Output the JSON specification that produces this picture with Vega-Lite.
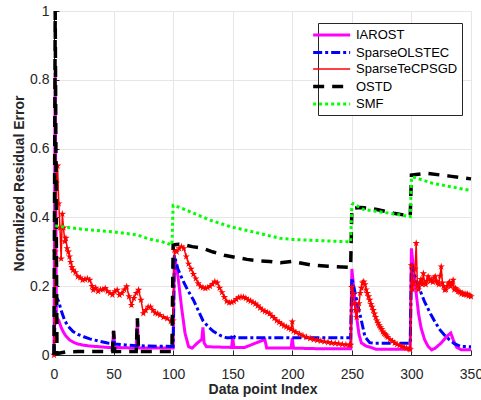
{
  "$schema": "https://vega.github.io/schema/vega-lite/v6.json",
  "width": 417,
  "height": 344,
  "autosize": {"type": "none"},
  "padding": {"left": 54, "top": 11, "right": 10, "bottom": 45},
  "background": "white",
  "config": {
    "view": {"stroke": null},
    "axis": {
      "gridColor": "#e6e6e6", "gridWidth": 1,
      "domainColor": "#262626", "domainWidth": 1,
      "tickColor": "#262626", "tickSize": -5,
      "labelFont": "Liberation Sans", "labelFontSize": 14, "labelColor": "#262626",
      "titleFont": "Liberation Sans", "titleFontSize": 14, "titleFontWeight": "bold", "titleColor": "#262626"
    },
    "legend": {
      "orient": "none", "legendX": 264, "legendY": 12,
      "strokeColor": "#262626", "fillColor": "white",
      "padding": 4,
      "labelFont": "Liberation Sans", "labelFontSize": 13, "labelColor": "black",
      "symbolType": "M-2.73,0H3.27", "symbolSize": 152, "labelOffset": 18, "rowPadding": 2.5
    }
  },
  "data": {"values": [
    {"s":"IAROST","x":0,"y":0},{"s":"IAROST","x":1,"y":0.82},{"s":"IAROST","x":2,"y":0.11},{"s":"IAROST","x":4,"y":0.1},{"s":"IAROST","x":6,"y":0.08},{"s":"IAROST","x":8,"y":0.066},{"s":"IAROST","x":10,"y":0.055},{"s":"IAROST","x":13,"y":0.044},{"s":"IAROST","x":17,"y":0.036},{"s":"IAROST","x":20,"y":0.032},{"s":"IAROST","x":24,"y":0.029},{"s":"IAROST","x":30,"y":0.026},{"s":"IAROST","x":38,"y":0.024},{"s":"IAROST","x":45,"y":0.022},{"s":"IAROST","x":49,"y":0.022},{"s":"IAROST","x":50,"y":0.07},{"s":"IAROST","x":51,"y":0.022},{"s":"IAROST","x":60,"y":0.021},{"s":"IAROST","x":69,"y":0.02},{"s":"IAROST","x":70,"y":0.105},{"s":"IAROST","x":71,"y":0.02},{"s":"IAROST","x":80,"y":0.02},{"s":"IAROST","x":90,"y":0.02},{"s":"IAROST","x":100,"y":0.02},{"s":"IAROST","x":101,"y":0.27},{"s":"IAROST","x":102,"y":0.27},{"s":"IAROST","x":104,"y":0.23},{"s":"IAROST","x":107,"y":0.14},{"s":"IAROST","x":110,"y":0.063},{"s":"IAROST","x":113,"y":0.024},{"s":"IAROST","x":116,"y":0.02},{"s":"IAROST","x":120,"y":0.034},{"s":"IAROST","x":124,"y":0.045},{"s":"IAROST","x":125,"y":0.08},{"s":"IAROST","x":126,"y":0.035},{"s":"IAROST","x":128,"y":0.024},{"s":"IAROST","x":149,"y":0.022},{"s":"IAROST","x":150,"y":0.05},{"s":"IAROST","x":151,"y":0.022},{"s":"IAROST","x":160,"y":0.022},{"s":"IAROST","x":168,"y":0.033},{"s":"IAROST","x":177,"y":0.045},{"s":"IAROST","x":178.5,"y":0.02},{"s":"IAROST","x":199,"y":0.02},{"s":"IAROST","x":200,"y":0.05},{"s":"IAROST","x":201,"y":0.02},{"s":"IAROST","x":225,"y":0.018},{"s":"IAROST","x":249,"y":0.018},{"s":"IAROST","x":250,"y":0.25},{"s":"IAROST","x":252,"y":0.18},{"s":"IAROST","x":254,"y":0.11},{"s":"IAROST","x":256,"y":0.06},{"s":"IAROST","x":258,"y":0.035},{"s":"IAROST","x":262,"y":0.026},{"s":"IAROST","x":266,"y":0.022},{"s":"IAROST","x":270,"y":0.017},{"s":"IAROST","x":299,"y":0.017},{"s":"IAROST","x":300,"y":0.31},{"s":"IAROST","x":302,"y":0.24},{"s":"IAROST","x":304,"y":0.18},{"s":"IAROST","x":306,"y":0.12},{"s":"IAROST","x":308,"y":0.08},{"s":"IAROST","x":311,"y":0.045},{"s":"IAROST","x":314,"y":0.025},{"s":"IAROST","x":317,"y":0.015},{"s":"IAROST","x":320,"y":0.02},{"s":"IAROST","x":325,"y":0.035},{"s":"IAROST","x":330,"y":0.055},{"s":"IAROST","x":333,"y":0.064},{"s":"IAROST","x":335,"y":0.045},{"s":"IAROST","x":338,"y":0.022},{"s":"IAROST","x":342,"y":0.015},{"s":"IAROST","x":350,"y":0.015},

    {"s":"SparseOLSTEC","x":0,"y":0},{"s":"SparseOLSTEC","x":1,"y":0.12},{"s":"SparseOLSTEC","x":2,"y":0.168},{"s":"SparseOLSTEC","x":4,"y":0.155},{"s":"SparseOLSTEC","x":6,"y":0.13},{"s":"SparseOLSTEC","x":9,"y":0.1},{"s":"SparseOLSTEC","x":12,"y":0.083},{"s":"SparseOLSTEC","x":16,"y":0.068},{"s":"SparseOLSTEC","x":20,"y":0.06},{"s":"SparseOLSTEC","x":25,"y":0.053},{"s":"SparseOLSTEC","x":30,"y":0.047},{"s":"SparseOLSTEC","x":38,"y":0.04},{"s":"SparseOLSTEC","x":45,"y":0.035},{"s":"SparseOLSTEC","x":49,"y":0.033},{"s":"SparseOLSTEC","x":50,"y":0.045},{"s":"SparseOLSTEC","x":51,"y":0.032},{"s":"SparseOLSTEC","x":60,"y":0.029},{"s":"SparseOLSTEC","x":70,"y":0.027},{"s":"SparseOLSTEC","x":80,"y":0.026},{"s":"SparseOLSTEC","x":100,"y":0.025},{"s":"SparseOLSTEC","x":101,"y":0.29},{"s":"SparseOLSTEC","x":104,"y":0.25},{"s":"SparseOLSTEC","x":108,"y":0.218},{"s":"SparseOLSTEC","x":112,"y":0.19},{"s":"SparseOLSTEC","x":117,"y":0.16},{"s":"SparseOLSTEC","x":121,"y":0.13},{"s":"SparseOLSTEC","x":125,"y":0.1},{"s":"SparseOLSTEC","x":130,"y":0.08},{"s":"SparseOLSTEC","x":134,"y":0.068},{"s":"SparseOLSTEC","x":140,"y":0.056},{"s":"SparseOLSTEC","x":145,"y":0.05},{"s":"SparseOLSTEC","x":149,"y":0.05},{"s":"SparseOLSTEC","x":150,"y":0.06},{"s":"SparseOLSTEC","x":152,"y":0.05},{"s":"SparseOLSTEC","x":200,"y":0.05},{"s":"SparseOLSTEC","x":249,"y":0.05},{"s":"SparseOLSTEC","x":250,"y":0.224},{"s":"SparseOLSTEC","x":254,"y":0.16},{"s":"SparseOLSTEC","x":258,"y":0.1},{"s":"SparseOLSTEC","x":261,"y":0.053},{"s":"SparseOLSTEC","x":265,"y":0.036},{"s":"SparseOLSTEC","x":270,"y":0.034},{"s":"SparseOLSTEC","x":299,"y":0.034},{"s":"SparseOLSTEC","x":300,"y":0.266},{"s":"SparseOLSTEC","x":303,"y":0.23},{"s":"SparseOLSTEC","x":307,"y":0.19},{"s":"SparseOLSTEC","x":311,"y":0.155},{"s":"SparseOLSTEC","x":316,"y":0.12},{"s":"SparseOLSTEC","x":320,"y":0.095},{"s":"SparseOLSTEC","x":324,"y":0.073},{"s":"SparseOLSTEC","x":328,"y":0.057},{"s":"SparseOLSTEC","x":332,"y":0.044},{"s":"SparseOLSTEC","x":336,"y":0.033},{"s":"SparseOLSTEC","x":341,"y":0.025},{"s":"SparseOLSTEC","x":350,"y":0.024},

    {"s":"SparseTeCPSGD","x":0,"y":0},{"s":"SparseTeCPSGD","x":1,"y":0.3},{"s":"SparseTeCPSGD","x":2,"y":0.5},{"s":"SparseTeCPSGD","x":3,"y":0.55},{"s":"SparseTeCPSGD","x":4,"y":0.44},{"s":"SparseTeCPSGD","x":5,"y":0.37},{"s":"SparseTeCPSGD","x":6,"y":0.28},{"s":"SparseTeCPSGD","x":7,"y":0.41},{"s":"SparseTeCPSGD","x":8,"y":0.37},{"s":"SparseTeCPSGD","x":9,"y":0.33},{"s":"SparseTeCPSGD","x":10,"y":0.34},{"s":"SparseTeCPSGD","x":11,"y":0.31},{"s":"SparseTeCPSGD","x":12,"y":0.3},{"s":"SparseTeCPSGD","x":13,"y":0.286},{"s":"SparseTeCPSGD","x":14,"y":0.27},{"s":"SparseTeCPSGD","x":15,"y":0.255},{"s":"SparseTeCPSGD","x":16,"y":0.247},{"s":"SparseTeCPSGD","x":18,"y":0.24},{"s":"SparseTeCPSGD","x":20,"y":0.228},{"s":"SparseTeCPSGD","x":22,"y":0.225},{"s":"SparseTeCPSGD","x":24,"y":0.218},{"s":"SparseTeCPSGD","x":26,"y":0.22},{"s":"SparseTeCPSGD","x":28,"y":0.222},{"s":"SparseTeCPSGD","x":30,"y":0.218},{"s":"SparseTeCPSGD","x":32,"y":0.2},{"s":"SparseTeCPSGD","x":33,"y":0.189},{"s":"SparseTeCPSGD","x":35,"y":0.195},{"s":"SparseTeCPSGD","x":37,"y":0.185},{"s":"SparseTeCPSGD","x":39,"y":0.19},{"s":"SparseTeCPSGD","x":41,"y":0.19},{"s":"SparseTeCPSGD","x":43,"y":0.194},{"s":"SparseTeCPSGD","x":45,"y":0.185},{"s":"SparseTeCPSGD","x":47,"y":0.18},{"s":"SparseTeCPSGD","x":49,"y":0.175},{"s":"SparseTeCPSGD","x":51,"y":0.185},{"s":"SparseTeCPSGD","x":53,"y":0.189},{"s":"SparseTeCPSGD","x":55,"y":0.174},{"s":"SparseTeCPSGD","x":57,"y":0.18},{"s":"SparseTeCPSGD","x":59,"y":0.19},{"s":"SparseTeCPSGD","x":61,"y":0.199},{"s":"SparseTeCPSGD","x":63,"y":0.17},{"s":"SparseTeCPSGD","x":65,"y":0.145},{"s":"SparseTeCPSGD","x":67,"y":0.165},{"s":"SparseTeCPSGD","x":69,"y":0.18},{"s":"SparseTeCPSGD","x":71,"y":0.189},{"s":"SparseTeCPSGD","x":73,"y":0.16},{"s":"SparseTeCPSGD","x":75,"y":0.121},{"s":"SparseTeCPSGD","x":77,"y":0.13},{"s":"SparseTeCPSGD","x":79,"y":0.14},{"s":"SparseTeCPSGD","x":81,"y":0.14},{"s":"SparseTeCPSGD","x":83,"y":0.13},{"s":"SparseTeCPSGD","x":85,"y":0.122},{"s":"SparseTeCPSGD","x":87,"y":0.12},{"s":"SparseTeCPSGD","x":89,"y":0.116},{"s":"SparseTeCPSGD","x":92,"y":0.11},{"s":"SparseTeCPSGD","x":95,"y":0.106},{"s":"SparseTeCPSGD","x":98,"y":0.098},{"s":"SparseTeCPSGD","x":100,"y":0.1},{"s":"SparseTeCPSGD","x":101,"y":0.305},{"s":"SparseTeCPSGD","x":103,"y":0.3},{"s":"SparseTeCPSGD","x":105,"y":0.31},{"s":"SparseTeCPSGD","x":107,"y":0.315},{"s":"SparseTeCPSGD","x":109,"y":0.31},{"s":"SparseTeCPSGD","x":111,"y":0.286},{"s":"SparseTeCPSGD","x":113,"y":0.265},{"s":"SparseTeCPSGD","x":115,"y":0.25},{"s":"SparseTeCPSGD","x":117,"y":0.235},{"s":"SparseTeCPSGD","x":119,"y":0.222},{"s":"SparseTeCPSGD","x":121,"y":0.208},{"s":"SparseTeCPSGD","x":123,"y":0.199},{"s":"SparseTeCPSGD","x":125,"y":0.196},{"s":"SparseTeCPSGD","x":127,"y":0.194},{"s":"SparseTeCPSGD","x":129,"y":0.196},{"s":"SparseTeCPSGD","x":131,"y":0.2},{"s":"SparseTeCPSGD","x":133,"y":0.206},{"s":"SparseTeCPSGD","x":135,"y":0.213},{"s":"SparseTeCPSGD","x":137,"y":0.21},{"s":"SparseTeCPSGD","x":139,"y":0.195},{"s":"SparseTeCPSGD","x":141,"y":0.182},{"s":"SparseTeCPSGD","x":143,"y":0.168},{"s":"SparseTeCPSGD","x":145,"y":0.156},{"s":"SparseTeCPSGD","x":147,"y":0.152},{"s":"SparseTeCPSGD","x":149,"y":0.153},{"s":"SparseTeCPSGD","x":151,"y":0.156},{"s":"SparseTeCPSGD","x":153,"y":0.162},{"s":"SparseTeCPSGD","x":155,"y":0.167},{"s":"SparseTeCPSGD","x":157,"y":0.169},{"s":"SparseTeCPSGD","x":159,"y":0.168},{"s":"SparseTeCPSGD","x":161,"y":0.165},{"s":"SparseTeCPSGD","x":163,"y":0.16},{"s":"SparseTeCPSGD","x":165,"y":0.157},{"s":"SparseTeCPSGD","x":167,"y":0.153},{"s":"SparseTeCPSGD","x":169,"y":0.149},{"s":"SparseTeCPSGD","x":171,"y":0.143},{"s":"SparseTeCPSGD","x":173,"y":0.137},{"s":"SparseTeCPSGD","x":175,"y":0.131},{"s":"SparseTeCPSGD","x":177,"y":0.127},{"s":"SparseTeCPSGD","x":179,"y":0.124},{"s":"SparseTeCPSGD","x":181,"y":0.12},{"s":"SparseTeCPSGD","x":183,"y":0.113},{"s":"SparseTeCPSGD","x":185,"y":0.107},{"s":"SparseTeCPSGD","x":187,"y":0.1},{"s":"SparseTeCPSGD","x":189,"y":0.095},{"s":"SparseTeCPSGD","x":191,"y":0.09},{"s":"SparseTeCPSGD","x":193,"y":0.085},{"s":"SparseTeCPSGD","x":195,"y":0.082},{"s":"SparseTeCPSGD","x":197,"y":0.078},{"s":"SparseTeCPSGD","x":199,"y":0.075},{"s":"SparseTeCPSGD","x":200,"y":0.097},{"s":"SparseTeCPSGD","x":201,"y":0.07},{"s":"SparseTeCPSGD","x":203,"y":0.066},{"s":"SparseTeCPSGD","x":206,"y":0.061},{"s":"SparseTeCPSGD","x":209,"y":0.056},{"s":"SparseTeCPSGD","x":212,"y":0.052},{"s":"SparseTeCPSGD","x":215,"y":0.048},{"s":"SparseTeCPSGD","x":218,"y":0.045},{"s":"SparseTeCPSGD","x":221,"y":0.043},{"s":"SparseTeCPSGD","x":224,"y":0.041},{"s":"SparseTeCPSGD","x":227,"y":0.039},{"s":"SparseTeCPSGD","x":230,"y":0.037},{"s":"SparseTeCPSGD","x":233,"y":0.035},{"s":"SparseTeCPSGD","x":236,"y":0.034},{"s":"SparseTeCPSGD","x":239,"y":0.033},{"s":"SparseTeCPSGD","x":242,"y":0.031},{"s":"SparseTeCPSGD","x":245,"y":0.03},{"s":"SparseTeCPSGD","x":248,"y":0.029},{"s":"SparseTeCPSGD","x":249,"y":0.029},{"s":"SparseTeCPSGD","x":250,"y":0.197},{"s":"SparseTeCPSGD","x":251,"y":0.18},{"s":"SparseTeCPSGD","x":252,"y":0.15},{"s":"SparseTeCPSGD","x":253,"y":0.13},{"s":"SparseTeCPSGD","x":254,"y":0.11},{"s":"SparseTeCPSGD","x":255,"y":0.13},{"s":"SparseTeCPSGD","x":256,"y":0.15},{"s":"SparseTeCPSGD","x":257,"y":0.18},{"s":"SparseTeCPSGD","x":258,"y":0.195},{"s":"SparseTeCPSGD","x":259,"y":0.21},{"s":"SparseTeCPSGD","x":260,"y":0.213},{"s":"SparseTeCPSGD","x":261,"y":0.205},{"s":"SparseTeCPSGD","x":262,"y":0.19},{"s":"SparseTeCPSGD","x":263,"y":0.18},{"s":"SparseTeCPSGD","x":264,"y":0.17},{"s":"SparseTeCPSGD","x":265,"y":0.16},{"s":"SparseTeCPSGD","x":266,"y":0.148},{"s":"SparseTeCPSGD","x":267,"y":0.14},{"s":"SparseTeCPSGD","x":268,"y":0.13},{"s":"SparseTeCPSGD","x":269,"y":0.12},{"s":"SparseTeCPSGD","x":270,"y":0.11},{"s":"SparseTeCPSGD","x":271,"y":0.1},{"s":"SparseTeCPSGD","x":272,"y":0.093},{"s":"SparseTeCPSGD","x":273,"y":0.086},{"s":"SparseTeCPSGD","x":274,"y":0.08},{"s":"SparseTeCPSGD","x":275,"y":0.075},{"s":"SparseTeCPSGD","x":276,"y":0.068},{"s":"SparseTeCPSGD","x":277,"y":0.063},{"s":"SparseTeCPSGD","x":278,"y":0.06},{"s":"SparseTeCPSGD","x":279,"y":0.056},{"s":"SparseTeCPSGD","x":280,"y":0.052},{"s":"SparseTeCPSGD","x":282,"y":0.045},{"s":"SparseTeCPSGD","x":284,"y":0.04},{"s":"SparseTeCPSGD","x":286,"y":0.035},{"s":"SparseTeCPSGD","x":288,"y":0.031},{"s":"SparseTeCPSGD","x":290,"y":0.028},{"s":"SparseTeCPSGD","x":292,"y":0.025},{"s":"SparseTeCPSGD","x":294,"y":0.022},{"s":"SparseTeCPSGD","x":296,"y":0.02},{"s":"SparseTeCPSGD","x":298,"y":0.018},{"s":"SparseTeCPSGD","x":299,"y":0.016},{"s":"SparseTeCPSGD","x":300,"y":0.26},{"s":"SparseTeCPSGD","x":301,"y":0.19},{"s":"SparseTeCPSGD","x":302,"y":0.21},{"s":"SparseTeCPSGD","x":303,"y":0.25},{"s":"SparseTeCPSGD","x":304,"y":0.325},{"s":"SparseTeCPSGD","x":305,"y":0.2},{"s":"SparseTeCPSGD","x":306,"y":0.19},{"s":"SparseTeCPSGD","x":307,"y":0.21},{"s":"SparseTeCPSGD","x":308,"y":0.22},{"s":"SparseTeCPSGD","x":309,"y":0.205},{"s":"SparseTeCPSGD","x":310,"y":0.237},{"s":"SparseTeCPSGD","x":311,"y":0.21},{"s":"SparseTeCPSGD","x":312,"y":0.205},{"s":"SparseTeCPSGD","x":313,"y":0.215},{"s":"SparseTeCPSGD","x":314,"y":0.228},{"s":"SparseTeCPSGD","x":315,"y":0.222},{"s":"SparseTeCPSGD","x":316,"y":0.215},{"s":"SparseTeCPSGD","x":317,"y":0.218},{"s":"SparseTeCPSGD","x":318,"y":0.212},{"s":"SparseTeCPSGD","x":319,"y":0.225},{"s":"SparseTeCPSGD","x":320,"y":0.228},{"s":"SparseTeCPSGD","x":321,"y":0.215},{"s":"SparseTeCPSGD","x":322,"y":0.21},{"s":"SparseTeCPSGD","x":323,"y":0.205},{"s":"SparseTeCPSGD","x":324,"y":0.23},{"s":"SparseTeCPSGD","x":325,"y":0.257},{"s":"SparseTeCPSGD","x":326,"y":0.21},{"s":"SparseTeCPSGD","x":327,"y":0.2},{"s":"SparseTeCPSGD","x":328,"y":0.189},{"s":"SparseTeCPSGD","x":329,"y":0.19},{"s":"SparseTeCPSGD","x":330,"y":0.2},{"s":"SparseTeCPSGD","x":331,"y":0.208},{"s":"SparseTeCPSGD","x":332,"y":0.212},{"s":"SparseTeCPSGD","x":333,"y":0.2},{"s":"SparseTeCPSGD","x":334,"y":0.205},{"s":"SparseTeCPSGD","x":335,"y":0.218},{"s":"SparseTeCPSGD","x":336,"y":0.19},{"s":"SparseTeCPSGD","x":337,"y":0.194},{"s":"SparseTeCPSGD","x":338,"y":0.19},{"s":"SparseTeCPSGD","x":339,"y":0.185},{"s":"SparseTeCPSGD","x":340,"y":0.184},{"s":"SparseTeCPSGD","x":341,"y":0.182},{"s":"SparseTeCPSGD","x":342,"y":0.178},{"s":"SparseTeCPSGD","x":343,"y":0.18},{"s":"SparseTeCPSGD","x":344,"y":0.176},{"s":"SparseTeCPSGD","x":345,"y":0.178},{"s":"SparseTeCPSGD","x":346,"y":0.175},{"s":"SparseTeCPSGD","x":347,"y":0.177},{"s":"SparseTeCPSGD","x":348,"y":0.172},{"s":"SparseTeCPSGD","x":349,"y":0.174},{"s":"SparseTeCPSGD","x":350,"y":0.17},

    {"s":"OSTD","x":0,"y":0},{"s":"OSTD","x":1,"y":1.0},{"s":"OSTD","x":2.5,"y":0.004},{"s":"OSTD","x":5,"y":0.006},{"s":"OSTD","x":10,"y":0.009},{"s":"OSTD","x":20,"y":0.01},{"s":"OSTD","x":49,"y":0.01},{"s":"OSTD","x":50,"y":0.07},{"s":"OSTD","x":51,"y":0.01},{"s":"OSTD","x":69,"y":0.01},{"s":"OSTD","x":70,"y":0.107},{"s":"OSTD","x":71,"y":0.01},{"s":"OSTD","x":99,"y":0.01},{"s":"OSTD","x":100,"y":0.32},{"s":"OSTD","x":105,"y":0.322},{"s":"OSTD","x":110,"y":0.32},{"s":"OSTD","x":116,"y":0.315},{"s":"OSTD","x":125,"y":0.31},{"s":"OSTD","x":133,"y":0.3},{"s":"OSTD","x":143,"y":0.29},{"s":"OSTD","x":152,"y":0.284},{"s":"OSTD","x":162,"y":0.278},{"s":"OSTD","x":171,"y":0.274},{"s":"OSTD","x":181,"y":0.272},{"s":"OSTD","x":190,"y":0.268},{"s":"OSTD","x":200,"y":0.272},{"s":"OSTD","x":215,"y":0.262},{"s":"OSTD","x":230,"y":0.258},{"s":"OSTD","x":249,"y":0.255},{"s":"OSTD","x":250,"y":0.426},{"s":"OSTD","x":258,"y":0.429},{"s":"OSTD","x":271,"y":0.423},{"s":"OSTD","x":285,"y":0.412},{"s":"OSTD","x":299,"y":0.404},{"s":"OSTD","x":300,"y":0.523},{"s":"OSTD","x":313,"y":0.528},{"s":"OSTD","x":332,"y":0.52},{"s":"OSTD","x":350,"y":0.512},

    {"s":"SMF","x":1,"y":0.375},{"s":"SMF","x":2,"y":0.375},{"s":"SMF","x":25,"y":0.365},{"s":"SMF","x":50,"y":0.358},{"s":"SMF","x":70,"y":0.349},{"s":"SMF","x":80,"y":0.337},{"s":"SMF","x":90,"y":0.33},{"s":"SMF","x":99,"y":0.32},{"s":"SMF","x":100,"y":0.435},{"s":"SMF","x":101,"y":0.435},{"s":"SMF","x":114,"y":0.417},{"s":"SMF","x":131,"y":0.392},{"s":"SMF","x":148,"y":0.373},{"s":"SMF","x":167,"y":0.358},{"s":"SMF","x":190,"y":0.339},{"s":"SMF","x":200,"y":0.336},{"s":"SMF","x":226,"y":0.332},{"s":"SMF","x":249,"y":0.329},{"s":"SMF","x":250,"y":0.436},{"s":"SMF","x":251,"y":0.44},{"s":"SMF","x":260,"y":0.423},{"s":"SMF","x":282,"y":0.412},{"s":"SMF","x":299,"y":0.402},{"s":"SMF","x":300,"y":0.514},{"s":"SMF","x":301,"y":0.518},{"s":"SMF","x":318,"y":0.499},{"s":"SMF","x":350,"y":0.478}
  ]},
  "encoding": {
    "x": {"field": "x", "type": "quantitative",
      "scale": {"domain": [0, 350], "nice": false, "zero": false},
      "axis": {"values": [0, 50, 100, 150, 200, 250, 300, 350], "title": "Data point Index", "labelPadding": 17, "titlePadding": 1, "labelFlush": false}},
    "y": {"field": "y", "type": "quantitative",
      "scale": {"domain": [0, 1], "nice": false},
      "axis": {"values": [0, 0.2, 0.4, 0.6, 0.8, 1], "format": "~g", "title": "Normalized Residual Error", "labelPadding": 10, "titlePadding": 3, "labelFlush": false}},
    "color": {"field": "s", "type": "nominal", "legend": {"title": null},
      "scale": {"domain": ["IAROST", "SparseOLSTEC", "SparseTeCPSGD", "OSTD", "SMF"], "range": ["#ff00ff", "#0000ff", "#ff0000", "#000000", "#00ff00"]}},
    "strokeDash": {"field": "s", "type": "nominal", "legend": {"title": null},
      "scale": {"domain": ["IAROST", "SparseOLSTEC", "SparseTeCPSGD", "OSTD", "SMF"], "range": [[1, 0], [9, 3, 3, 3], [1, 0], [11, 8], [3, 3]]}},
    "strokeWidth": {"field": "s", "type": "nominal", "legend": {"title": null},
      "scale": {"type": "ordinal", "domain": ["IAROST", "SparseOLSTEC", "SparseTeCPSGD", "OSTD", "SMF"], "range": [3, 3, 1.5, 3.5, 3]}}
  },
  "layer": [
    {"transform": [{"filter": "datum.s == 'IAROST'"}], "mark": {"type": "line"}},
    {"transform": [{"filter": "datum.s == 'SparseOLSTEC'"}], "mark": {"type": "line"}},
    {"transform": [{"filter": "datum.s == 'SparseTeCPSGD'"}], "mark": {"type": "line"}},
    {"transform": [{"filter": "datum.s == 'SparseTeCPSGD'"}], "mark": {"type": "point", "filled": true, "color": "#ff0000", "opacity": 1, "size": 60, "shape": "M0,-1L0.2245,-0.309L0.951,-0.309L0.363,0.118L0.588,0.809L0,0.382L-0.588,0.809L-0.363,0.118L-0.951,-0.309L-0.2245,-0.309Z"},
      "encoding": {"color": {"value": "#ff0000"}, "strokeDash": {"value": [1, 0]}, "strokeWidth": {"value": 0.5}}},
    {"transform": [{"filter": "datum.s == 'OSTD'"}], "mark": {"type": "line"}},
    {"transform": [{"filter": "datum.s == 'SMF'"}], "mark": {"type": "line"}}
  ]
}
